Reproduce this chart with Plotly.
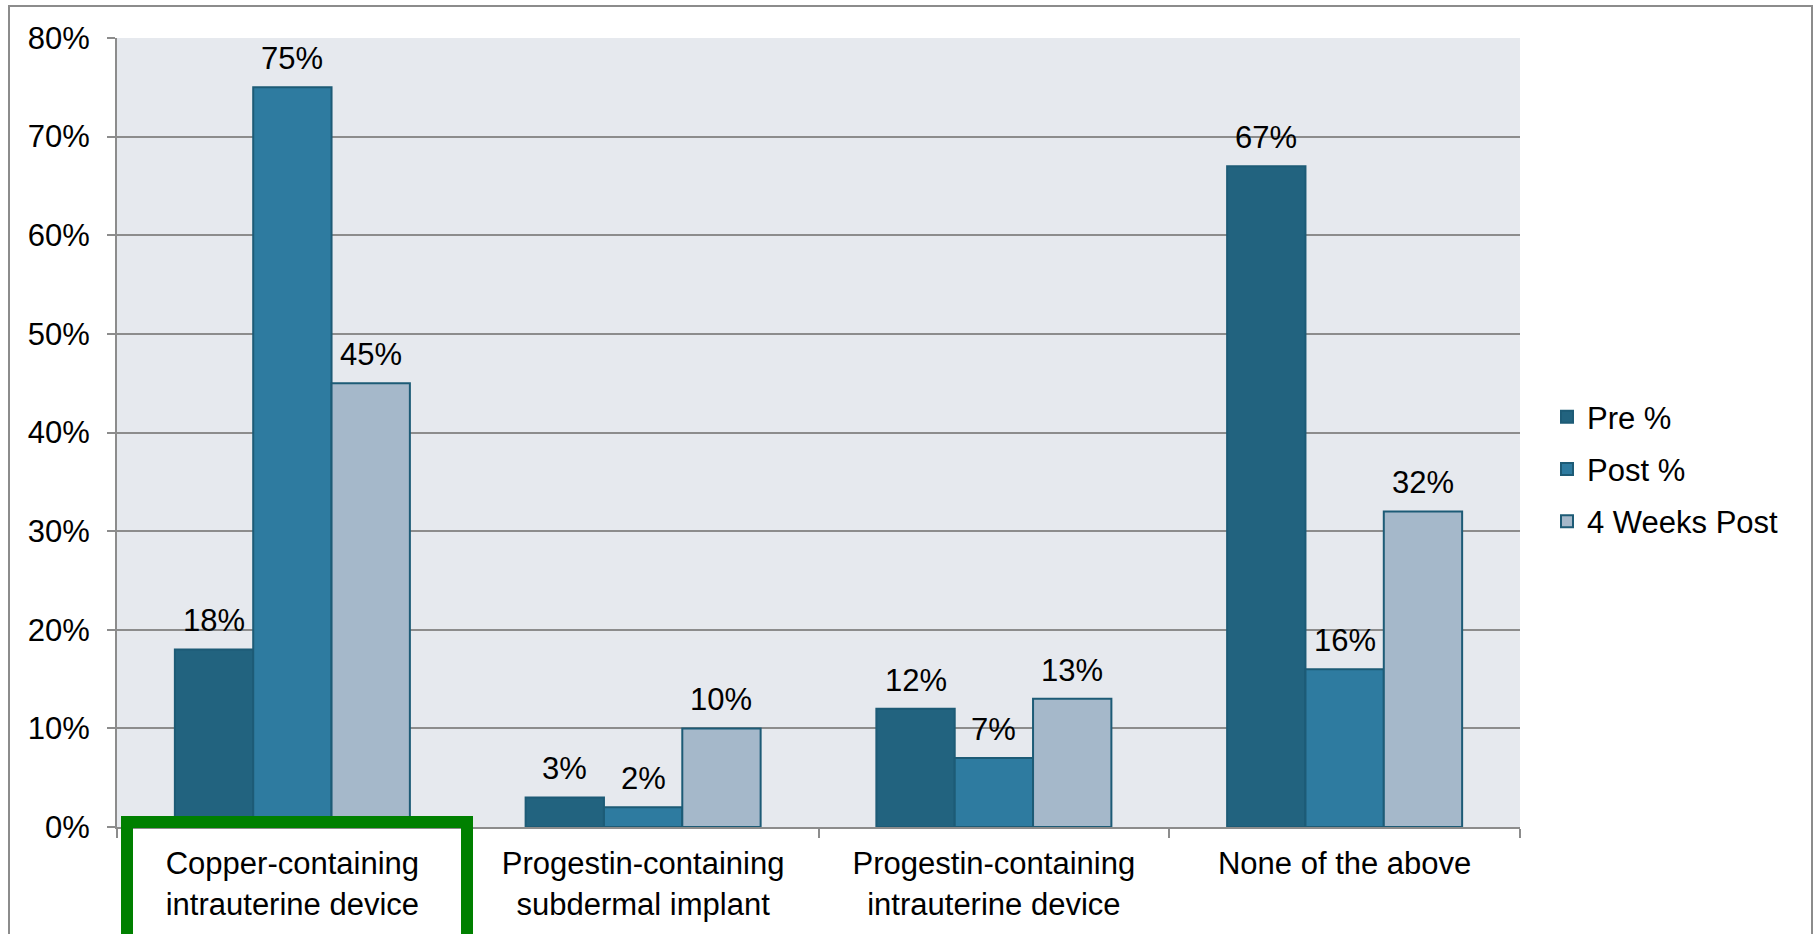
import plotly.graph_objects as go

# Survey responses by contraceptive method (percent of respondents)
categories = [
    "Copper-containing<br>intrauterine device",
    "Progestin-containing<br>subdermal implant",
    "Progestin-containing<br>intrauterine device",
    "None of the above",
]
series_names = ["Pre %", "Post %", "4 Weeks Post"]
pre_pct = [18, 3, 12, 67]
post_pct = [75, 2, 7, 16]
four_weeks_pct = [45, 10, 13, 32]
y_ticks = [0, 10, 20, 30, 40, 50, 60, 70, 80]
y_tick_labels = ["0%", "10%", "20%", "30%", "40%", "50%", "60%", "70%", "80%"]

series_values = [pre_pct, post_pct, four_weeks_pct]
series_colors = ["#22637f", "#2e7ba0", "#a5b8ca"]
outline_color = "#1d5b76"
grid_color = "#8c8c8c"
font_family = "Liberation Sans, Arial, sans-serif"

W, H = 1816, 934
plot_left, plot_right, plot_top, plot_bottom = 117, 1520, 38, 827
pw, ph = plot_right - plot_left, plot_bottom - plot_top
bar_gap = 0.33


def px_x(v):
    return (v - plot_left) / pw


def px_y(v):
    return (plot_bottom - v) / ph


fig = go.Figure()
for name, vals, col in zip(series_names, series_values, series_colors):
    fig.add_trace(go.Bar(
        name=name,
        x=categories,
        y=vals,
        legendgroup=name,
        marker=dict(color=col, line=dict(color=outline_color, width=2)),
    ))

# value labels above each bar, offset to the bar's slot within its group
n_series = len(series_names)
bar_px = pw / len(categories) * (1 - bar_gap) / n_series
annotations = []
for i, vals in enumerate(series_values):
    for cat, v in zip(categories, vals):
        annotations.append(dict(
            x=cat, y=v, xref="x", yref="y",
            text=f"{v}%", showarrow=False,
            xanchor="center", yanchor="bottom",
            xshift=(i - (n_series - 1) / 2) * bar_px, yshift=9,
            font=dict(family=font_family, size=31, color="black"),
        ))

fig.update_layout(
    width=W,
    height=H,
    margin=dict(l=plot_left, r=W - plot_right, t=plot_top, b=H - plot_bottom),
    paper_bgcolor="white",
    plot_bgcolor="#e6e9ee",
    barmode="group",
    bargap=bar_gap,
    bargroupgap=0,
    font=dict(family=font_family, size=31, color="black"),
    legend=dict(
        x=px_x(1547), y=px_y(390), xanchor="left", yanchor="top",
        font=dict(size=31), traceorder="grouped", tracegroupgap=9,
        bgcolor="rgba(0,0,0,0)",
    ),
    xaxis=dict(
        type="category",
        showline=True, linecolor=grid_color, linewidth=2,
        ticks="outside", tickson="boundaries", ticklen=9,
        tickcolor=grid_color, tickwidth=2,
        showgrid=False,
        tickfont=dict(size=31),
        ticklabelstandoff=8,
    ),
    yaxis=dict(
        range=[0, 80], tickmode="array", tickvals=y_ticks, ticktext=y_tick_labels,
        showline=True, linecolor=grid_color, linewidth=2,
        ticks="outside", ticklen=8, tickcolor=grid_color, tickwidth=2,
        showgrid=True, gridcolor=grid_color, gridwidth=2,
        zeroline=False,
        tickfont=dict(size=31),
        ticklabelstandoff=11,
    ),
    annotations=annotations,
    shapes=[
        # outer chart frame
        dict(type="rect", xref="paper", yref="paper",
             x0=px_x(9), x1=px_x(1812), y0=px_y(945), y1=px_y(6),
             line=dict(color=grid_color, width=2), layer="below"),
        # highlight around the first category
        dict(type="rect", xref="paper", yref="paper",
             x0=px_x(127), x1=px_x(467), y0=px_y(950), y1=px_y(822),
             line=dict(color="#008000", width=12), layer="above"),
    ],
)

fig.write_html("out.html")
